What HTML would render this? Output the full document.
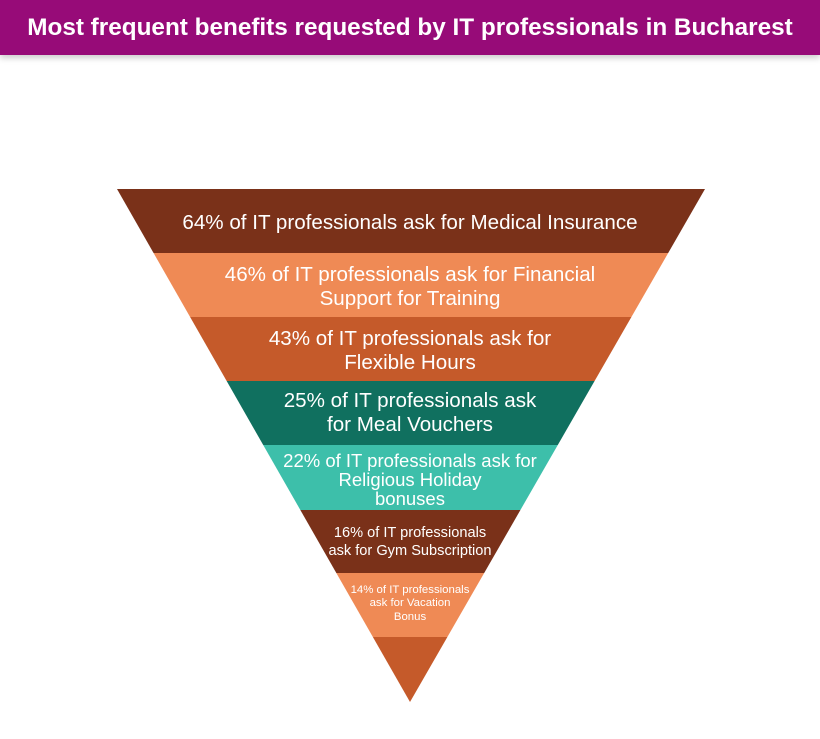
<!DOCTYPE html>
<html><head><style>
body{margin:0;width:820px;height:739px;background:#fff;overflow:hidden;font-family:"Liberation Sans",sans-serif}
.bar{position:absolute;left:0;top:0;width:820px;height:55px;background:#970b78;box-shadow:0 3px 6px rgba(0,0,0,.2);color:#fff;font-weight:bold;font-size:24.3px;line-height:55px;text-align:center;white-space:nowrap}
svg{position:absolute;left:0;top:0}
</style></head><body>
<div class="bar">Most frequent benefits requested by IT professionals in Bucharest</div>
<svg width="820" height="739">
<defs><clipPath id="t"><polygon points="117,189 705,189 410,702"/></clipPath></defs>
<g clip-path="url(#t)">
<rect x="0" y="189" width="820" height="64" fill="#7a3119"/>
<rect x="0" y="253" width="820" height="64" fill="#ef8a55"/>
<rect x="0" y="317" width="820" height="64" fill="#c55a2a"/>
<rect x="0" y="381" width="820" height="64" fill="#10705f"/>
<rect x="0" y="445" width="820" height="65" fill="#3dbfaa"/>
<rect x="0" y="510" width="820" height="63" fill="#7a3119"/>
<rect x="0" y="573" width="820" height="64" fill="#ef8a55"/>
<rect x="0" y="637" width="820" height="70" fill="#c55a2a"/>
</g>
<g fill="#fff" text-anchor="middle" font-family="Liberation Sans, sans-serif">
<text x="410" y="229" font-size="20.6">64% of IT professionals ask for Medical Insurance</text>
<text x="410" y="281" font-size="20.6">46% of IT professionals ask for Financial</text>
<text x="410" y="305" font-size="20.6">Support for Training</text>
<text x="410" y="345" font-size="20.6">43% of IT professionals ask for</text>
<text x="410" y="369" font-size="20.6">Flexible Hours</text>
<text x="410" y="407" font-size="20.6">25% of IT professionals ask</text>
<text x="410" y="431" font-size="20.6">for Meal Vouchers</text>
<text x="410" y="467" font-size="18.5">22% of IT professionals ask for</text>
<text x="410" y="486" font-size="18.5">Religious Holiday</text>
<text x="410" y="505" font-size="18.5">bonuses</text>
<text x="410" y="537" font-size="14.6">16% of IT professionals</text>
<text x="410" y="555" font-size="14.6">ask for Gym Subscription</text>
<text x="410" y="593" font-size="11.4">14% of IT professionals</text>
<text x="410" y="606" font-size="11.4">ask for  Vacation</text>
<text x="410" y="620" font-size="11.4">Bonus</text>
</g>
</svg>
</body></html>
